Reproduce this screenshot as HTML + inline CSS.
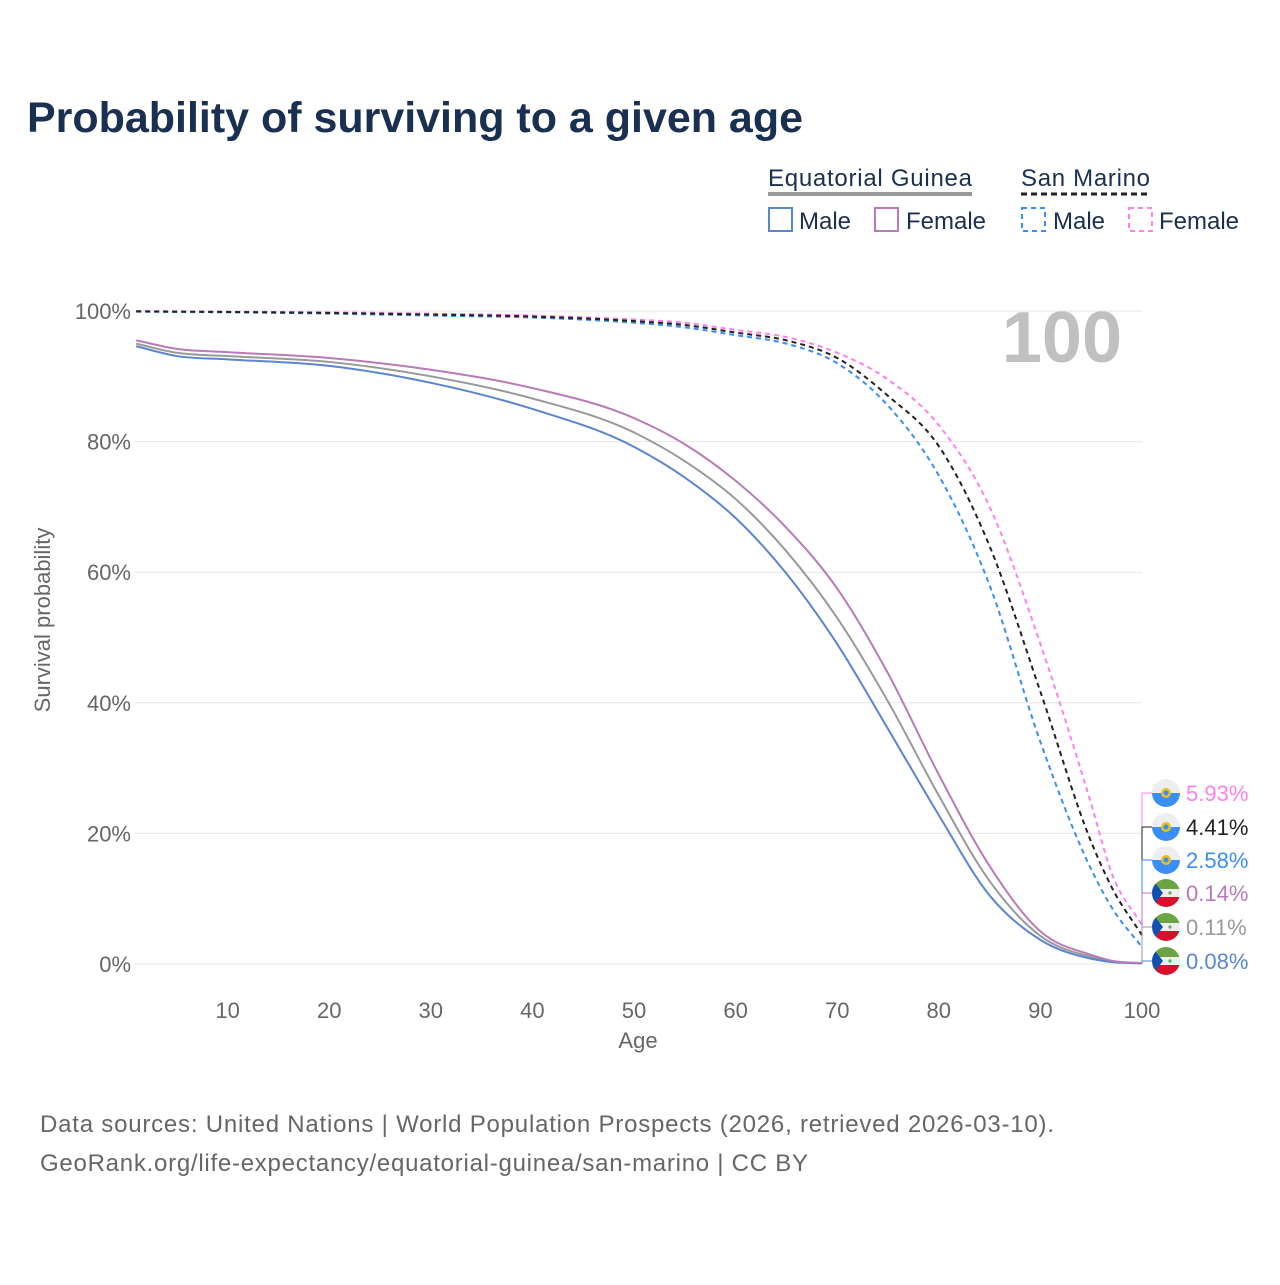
<!DOCTYPE html>
<html><head><meta charset="utf-8"><style>
body{margin:0;background:#fff;font-family:"Liberation Sans",sans-serif}
svg text{font-family:"Liberation Sans",sans-serif}
</style></head><body>
<svg id="c" width="1280" height="1280" viewBox="0 0 1280 1280">
<text x="27" y="132" font-size="43" font-weight="bold" fill="#1a3050" textLength="776">Probability of surviving to a given age</text>
<g>
<text x="768" y="186" font-size="24" fill="#1a3050" textLength="204">Equatorial Guinea</text>
<line x1="768" y1="194" x2="972" y2="194" stroke="#999" stroke-width="4"/>
<text x="1021" y="186" font-size="24" fill="#1a3050" textLength="129">San Marino</text>
<line x1="1021" y1="194" x2="1150" y2="194" stroke="#222" stroke-width="3" stroke-dasharray="6,4"/>
<rect x="769" y="208" width="23" height="23" fill="none" stroke="#5b85d0" stroke-width="2"/>
<text x="799" y="229" font-size="24" fill="#1a3050">Male</text>
<rect x="875" y="208" width="23" height="23" fill="none" stroke="#b87ab8" stroke-width="2"/>
<text x="906" y="229" font-size="24" fill="#1a3050">Female</text>
<rect x="1022" y="208" width="23" height="23" fill="none" stroke="#3a8ef5" stroke-width="2" stroke-dasharray="5,4"/>
<text x="1053" y="229" font-size="24" fill="#1a3050">Male</text>
<rect x="1129" y="208" width="23" height="23" fill="none" stroke="#ff80f0" stroke-width="2" stroke-dasharray="5,4"/>
<text x="1159" y="229" font-size="24" fill="#1a3050">Female</text>
</g>
<text x="1122" y="362" font-size="72" font-weight="bold" fill="#c0c0c0" text-anchor="end">100</text>
<g id="grid"></g><g id="lines"></g><g id="labels"></g>
<text transform="translate(50,620) rotate(-90)" font-size="22" fill="#666" text-anchor="middle">Survival probability</text>
<text x="638" y="1048" font-size="22" fill="#666" text-anchor="middle">Age</text>
<text x="40" y="1132" font-size="24" fill="#666" textLength="1014">Data sources: United Nations | World Population Prospects (2026, retrieved 2026-03-10).</text>
<text x="40" y="1171" font-size="24" fill="#666" textLength="768">GeoRank.org/life-expectancy/equatorial-guinea/san-marino | CC BY</text>
</svg>
<script>
const ages=[1,5,10,20,30,40,50,55,60,65,70,75,80,85,90,95,97,100];
const egMale=[94.6,93.1,92.6,91.6,89.0,85.0,79.2,74.5,68.3,59.8,49.0,36.0,22.8,10.5,3.7,0.8,0.3,0.08];
const egFemale=[95.5,94.2,93.7,92.8,91.0,88.2,83.6,79.6,74.0,66.8,57.5,44.5,29.0,15.0,5.0,1.4,0.5,0.14];
const egTotal=[95.0,93.6,93.1,92.2,90.0,86.6,81.4,77.0,71.2,63.2,53.0,40.2,25.8,12.7,4.3,1.1,0.4,0.11];
const smMale=[99.9,99.85,99.8,99.6,99.3,99.0,98.2,97.5,96.3,95.0,92.0,85.5,74.8,58.0,34.0,14.5,8.7,2.58];
const smFemale=[100,99.95,99.9,99.8,99.6,99.3,98.7,98.2,97.1,96.0,93.6,89.5,82.5,70.0,49.0,24.5,14.0,5.93];
const smTotal=[99.95,99.9,99.85,99.7,99.45,99.15,98.45,97.85,96.7,95.5,92.8,87.0,79.3,64.0,41.7,18.7,11.8,4.41];
const yTicks=[0,20,40,60,80,100];
const xTicks=[10,20,30,40,50,60,70,80,90,100];
const X=a=>126+a*10.16, Y=p=>964-p*6.53;
const NS="http://www.w3.org/2000/svg";
const grid=document.getElementById('grid');
yTicks.forEach(t=>{
 const l=document.createElementNS(NS,'line');
 
 
 l.setAttribute('x1',135);l.setAttribute('x2',1142);l.setAttribute('y1',Y(t));l.setAttribute('y2',Y(t));
 l.setAttribute('stroke','#e6e6e6');grid.appendChild(l);
 const tx=document.createElementNS(NS,'text');
 
 
 tx.setAttribute('x',131);tx.setAttribute('y',Y(t)+8);tx.setAttribute('text-anchor','end');
 tx.setAttribute('font-size','22');tx.setAttribute('fill','#666');tx.textContent=t+'%';grid.appendChild(tx);
});
xTicks.forEach(t=>{
 const tx=document.createElementNS(NS,'text');
 
 
 tx.setAttribute('x',X(t));tx.setAttribute('y',1018);tx.setAttribute('text-anchor','middle');
 tx.setAttribute('font-size','22');tx.setAttribute('fill','#666');tx.textContent=t;grid.appendChild(tx);
});
function pathD(vals){
 const xs=ages.map(X), ys=vals.map(Y), n=xs.length;
 const m=[];
 m[0]=(ys[1]-ys[0])/(xs[1]-xs[0]);
 m[n-1]=(ys[n-1]-ys[n-2])/(xs[n-1]-xs[n-2]);
 for(let i=1;i<n-1;i++){
  const d0=(ys[i]-ys[i-1])/(xs[i]-xs[i-1]), d1=(ys[i+1]-ys[i])/(xs[i+1]-xs[i]);
  const h0=xs[i]-xs[i-1], h1=xs[i+1]-xs[i];
  m[i]=(d0*h1+d1*h0)/(h0+h1);
 }
 let s='M'+xs[0]+','+ys[0];
 for(let i=0;i<n-1;i++){
  const h=(xs[i+1]-xs[i])/3;
  s+=` C${xs[i]+h},${ys[i]+m[i]*h} ${xs[i+1]-h},${ys[i+1]-m[i+1]*h} ${xs[i+1]},${ys[i+1]}`;
 }
 return s;
}
const lines=document.getElementById('lines');
const series=[['eg-total-line',egTotal,'#999',''],['eg-male-line',egMale,'#5b85d0',''],['eg-female-line',egFemale,'#b87ab8',''],
 ['sm-male-line',smMale,'#3a8ef5','5,4'],['sm-female-line',smFemale,'#ff80f0','5,4'],['sm-total-line',smTotal,'#222','5,4']];
series.forEach(s=>{
 const p=document.createElementNS(NS,'path');
 
 
 p.setAttribute('d',pathD(s[1]));p.setAttribute('fill','none');p.setAttribute('stroke',s[2]);
 p.setAttribute('stroke-width','2');if(s[3])p.setAttribute('stroke-dasharray',s[3]);lines.appendChild(p);
});
const endLabels=[['5.93%','#ff80f0',793,'sm',smFemale],['4.41%','#222',827,'sm',smTotal],['2.58%','#3a8ef5',860,'sm',smMale],
 ['0.14%','#b87ab8',893,'eg',egFemale],['0.11%','#999',927,'eg',egTotal],['0.08%','#5b85d0',961,'eg',egMale]];
const lab=document.getElementById('labels');
endLabels.forEach(e=>{
 const v=e[4][e[4].length-1];
 const pl=document.createElementNS(NS,'polyline');
 
 
 pl.setAttribute('points',`1142,${Y(v)} 1142,${e[2]} 1152,${e[2]}`);
 pl.setAttribute('fill','none');pl.setAttribute('stroke',e[1]);lab.appendChild(pl);
 const g=document.createElementNS(NS,'g');
 
 
 const cy=e[2];
 if(e[3]==='sm'){
  g.innerHTML=`<circle cx="1166" cy="${cy}" r="14" fill="#eee"/><path d="M1152,${cy} A14,14 0 0 0 1180,${cy} Z" fill="#3a8ef5"/><circle cx="1166" cy="${cy}" r="5" fill="#e8c020"/><circle cx="1166" cy="${cy}" r="2.5" fill="#3a8ef5"/>`;
 }else{
  g.innerHTML=`<clipPath id="cl${cy}"><circle cx="1166" cy="${cy}" r="14"/></clipPath><g clip-path="url(#cl${cy})"><rect x="1152" y="${cy-14}" width="28" height="10" fill="#6aa444"/><rect x="1152" y="${cy-4}" width="28" height="8" fill="#eee"/><rect x="1152" y="${cy+4}" width="28" height="10" fill="#d8102c"/><path d="M1152,${cy-14} L1163,${cy} L1152,${cy+14}Z" fill="#1050b0"/><circle cx="1170" cy="${cy}" r="1.6" fill="#6a6"/></g>`;
 }
 lab.appendChild(g);
 const t=document.createElementNS(NS,'text');
 
 
 t.setAttribute('x',1186);t.setAttribute('y',e[2]+8);t.setAttribute('font-size','22');t.setAttribute('fill',e[1]);
 t.textContent=e[0];lab.appendChild(t);
});
</script>
</body></html>
